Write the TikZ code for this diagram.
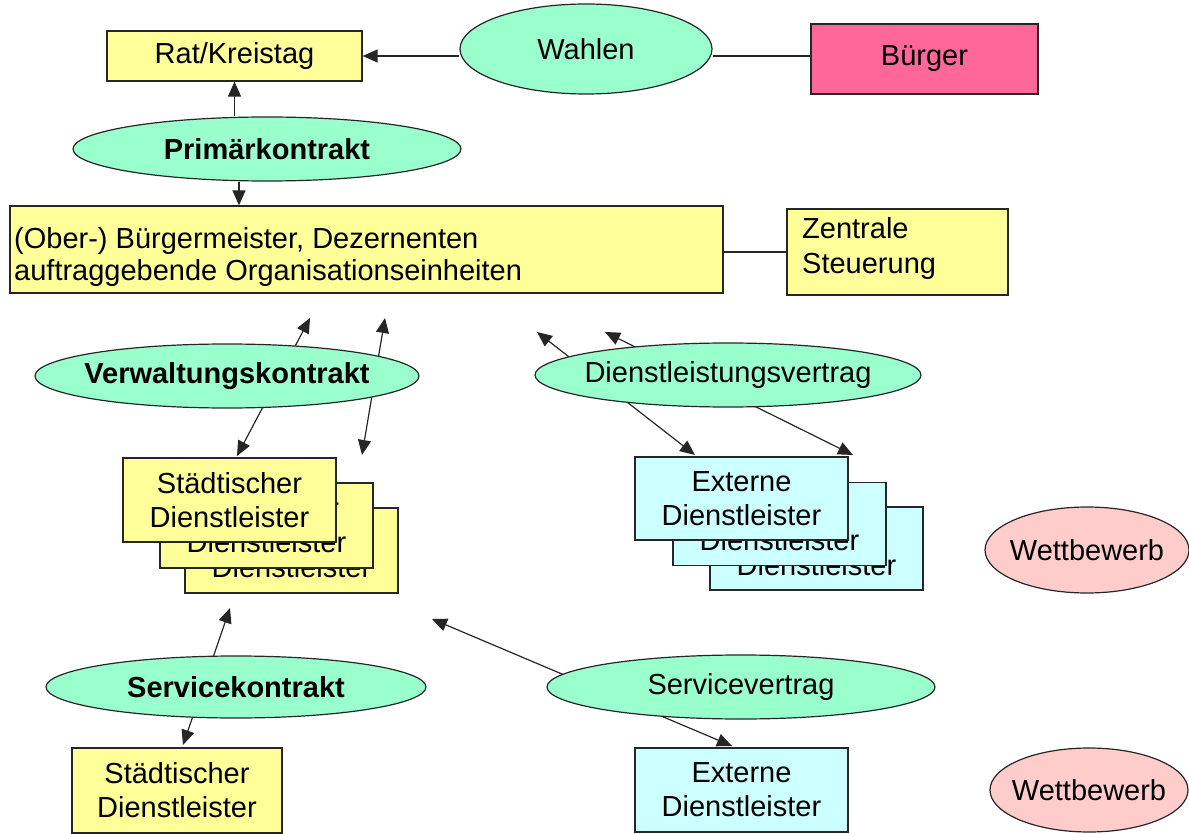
\documentclass[tikz,border=0pt]{standalone}
\usepackage{fontspec}
\setmainfont{Liberation Sans}
\usetikzlibrary{shapes.geometric,arrows.meta}
\definecolor{mint}{HTML}{99FFCC}
\definecolor{lyellow}{HTML}{FFFF99}
\definecolor{rose}{HTML}{FF6699}
\definecolor{lcyan}{HTML}{CCFFFF}
\definecolor{lpink}{HTML}{FFCCCC}
\newcommand\zw[1]{\makebox[0pt]{#1}}
\begin{document}
\begin{tikzpicture}[x=1pt,y=-1pt,
  font=\fontsize{29}{34}\selectfont,
  box/.style={draw=black!85, line width=1.2pt, rectangle, inner sep=0pt, align=center},
  ybox/.style={box, fill=lyellow},
  cbox/.style={box, fill=lcyan},
  ell/.style={draw=black!85, line width=1.2pt, ellipse, inner sep=0pt, fill=mint},
  pell/.style={ell, fill=lpink},
  conn/.style={line width=1.2pt, draw=black!85},
  arr/.style={conn, -{Triangle[length=15pt,width=13pt]}},
  darr/.style={conn, {Triangle[length=15pt,width=13pt]}-{Triangle[length=15pt,width=13pt]}},
  txt/.style={inner sep=0pt, align=left, anchor=west}]
\useasboundingbox (0,0) rectangle (1189,834);

% free ends of the crossing connectors
\coordinate (v1a) at (237,456); \coordinate (v1b) at (310,318);
\coordinate (v2a) at (362,455); \coordinate (v2b) at (385,318);
\coordinate (d1a) at (537,332); \coordinate (d1b) at (695,455);
\coordinate (d2a) at (605,332); \coordinate (d2b) at (853,455);
\coordinate (s1a) at (230,608); \coordinate (s1b) at (183,745);
\coordinate (s2a) at (432,619); \coordinate (s2b) at (732,746);

\draw[darr] (v1a) -- (v1b);
\draw[darr] (v2a) -- (v2b);
\draw[darr] (d1a) -- (d1b);
\draw[darr] (d2a) -- (d2b);
\draw[darr] (s1a) -- (s1b);
\draw[darr] (s2a) -- (s2b);

% top row
\node[ybox, minimum width=255pt, minimum height=50pt] (rat) at (234.5,56) {Rat/Kreistag};
\node[ell, minimum width=252pt, minimum height=90pt] (wahl) at (586,49) {\zw{Wahlen}};
\node[box, fill=rose, minimum width=227pt, minimum height=70pt] (buerger) at (924.5,59) {Bürger};

\node[ell, minimum width=388pt, minimum height=64pt] (prim) at (267,149) {\zw{\bfseries Primärkontrakt}};

\node[ybox, minimum width=713pt, minimum height=87pt] (big) at (366.5,249.5) {};
\node[txt, font=\fontsize{29}{32}\selectfont] (bigtext) at (14,257) {(Ober-) Bürgermeister, Dezernenten\\auftraggebende Organisationseinheiten};

\node[ybox, minimum width=221pt, minimum height=86pt] (zent) at (897.5,252) {};
\node[txt, font=\fontsize{29}{35}\selectfont] (zenttext) at (802,248.5) {Zentrale\\Steuerung};

% middle
\node[ell, minimum width=384pt, minimum height=64pt] (verw) at (227,376) {\zw{\bfseries Verwaltungskontrakt}};
\node[ell, minimum width=386pt, minimum height=64pt] (dienst) at (728,375) {\zw{Dienstleistungsvertrag}};

\node[ybox, minimum width=213pt, minimum height=85pt] (sd3) at (291.5,550.5) {Städtischer\\Dienstleister};
\node[ybox, minimum width=213pt, minimum height=85pt] (sd2) at (266.5,525.5) {Städtischer\\Dienstleister};
\node[ybox, minimum width=213pt, minimum height=84pt] (sd1) at (229.5,500) {Städtischer\\Dienstleister};

\node[cbox, minimum width=213pt, minimum height=83pt] (ex3) at (816.5,548.5) {Externe\\Dienstleister};
\node[cbox, minimum width=213pt, minimum height=83pt] (ex2) at (779.5,524) {Externe\\Dienstleister};
\node[cbox, minimum width=213pt, minimum height=83pt] (ex1) at (741.5,498.5) {Externe\\Dienstleister};

\node[pell, minimum width=204pt, minimum height=86pt] (wett1) at (1087,550) {\zw{Wettbewerb}};

% bottom
\node[ell, minimum width=380pt, minimum height=62pt] (servk) at (236,687) {\zw{\bfseries Servicekontrakt}};
\node[ell, minimum width=388pt, minimum height=64pt] (servv) at (741,687) {\zw{Servicevertrag}};

\node[ybox, minimum width=210pt, minimum height=85pt] (sd4) at (177,790.5) {Städtischer\\Dienstleister};
\node[cbox, minimum width=213pt, minimum height=84pt] (ex4) at (741.5,790) {Externe\\Dienstleister};
\node[pell, minimum width=198pt, minimum height=84pt] (wett2) at (1089,790) {\zw{Wettbewerb}};

% connectors between nodes
\draw[arr] (rat.east -| wahl.west) -- (rat.east);
\draw[conn] (wahl.east |- rat.east) -- (buerger.west |- rat.east);
\draw[arr] (rat.south |- prim.north) -- (rat.south);
\draw[arr] (prim.south -| 239,0) -- (big.north -| 239,0);
\draw[conn] (big.east |- zent.west) -- (zent.west);
\end{tikzpicture}
\end{document}
